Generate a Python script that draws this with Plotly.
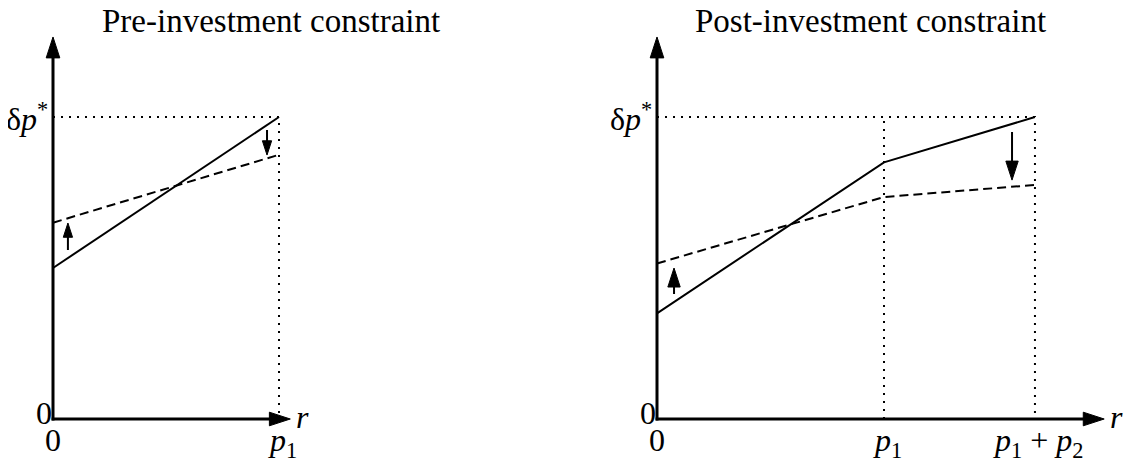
import plotly.graph_objects as go

# values (units: r in multiples of p1, height in multiples of delta p*)
p1 = 1.0
p1_plus_p2 = 1.665
dp_star = 1.0

pre_r = [0.0, p1]
pre_solid = [0.50, 1.00]
pre_dashed = [0.65, 0.875]

post_r = [0.0, p1, p1_plus_p2]
post_solid = [0.35, 0.85, 1.00]
post_dashed = [0.515, 0.735, 0.775]

# shift arrows: r, from, to
pre_arrows_r = [0.066, 0.947]
pre_arrows_from = [0.56, 0.957]
pre_arrows_to = [0.649, 0.874]
post_arrows_r = [0.075, 1.564]
post_arrows_from = [0.414, 0.950]
post_arrows_to = [0.500, 0.791]

titles = ["Pre-investment constraint", "Post-investment constraint"]

# axis extents
y_top = 1.265
pre_x_tip = 1.05
post_x_tip = 1.97

# page has an 8px body margin, so the figure is a bit smaller than the window
PAD = 8
W, H = 1137 - PAD, 459 - PAD
FONT = "Liberation Serif"

fig = go.Figure()


def arrow_trace(x, y, width, head, xa, ya):
    return go.Scatter(x=x, y=y, mode="lines+markers",
                      line=dict(color="black", width=width),
                      marker=dict(symbol="arrow", size=[0, head], angleref="previous",
                                  color="black", opacity=1,
                                  line=dict(color="black", width=1)),
                      xaxis=xa, yaxis=ya, hoverinfo="skip")


def add_panel(xa, ya, r, solid, dashed, ticks, tick_labels, x_tip, ar, af, at, head):
    dots = dict(color="black", width=2, dash="2px,6px")
    # dotted guides
    fig.add_trace(go.Scatter(x=[0, r[-1], r[-1]], y=[dp_star, dp_star, 0], mode="lines",
                             line=dots, xaxis=xa, yaxis=ya, hoverinfo="skip"))
    for t in ticks[1:-1]:
        fig.add_trace(go.Scatter(x=[t, t], y=[0, dp_star], mode="lines",
                                 line=dots, xaxis=xa, yaxis=ya, hoverinfo="skip"))
    # curves
    fig.add_trace(go.Scatter(x=r, y=dashed, mode="lines",
                             line=dict(color="black", width=2, dash="9px,5px"),
                             xaxis=xa, yaxis=ya))
    fig.add_trace(go.Scatter(x=r, y=solid, mode="lines",
                             line=dict(color="black", width=2),
                             xaxis=xa, yaxis=ya))
    # shift arrows
    for x0, y0, y1 in zip(ar, af, at):
        fig.add_trace(arrow_trace([x0, x0], [y0, y1], 2, head, xa, ya))
    # axes with arrow tips
    fig.add_trace(arrow_trace([0, 0], [-0.005, y_top], 3, 22, xa, ya))
    fig.add_trace(arrow_trace([-0.006, x_tip], [0, 0], 3, 22, xa, ya))

    xref = "x" if xa == "x" else "x2"
    yref = "y" if ya == "y" else "y2"
    f = dict(family=FONT, size=32, color="black")
    fig.add_annotation(x=0, y=dp_star, xref=xref, yref=yref, text="δ<i>p</i><sup>*</sup>",
                       showarrow=False, xanchor="right", yanchor="middle", xshift=-3, font=f)
    fig.add_annotation(x=0, y=0, xref=xref, yref=yref, text="0", showarrow=False,
                       xanchor="right", yanchor="middle", xshift=1, yshift=6, font=f)
    fig.add_annotation(x=x_tip, y=0, xref=xref, yref=yref, text="<i>r</i>", showarrow=False,
                       xanchor="left", yanchor="middle", xshift=4, yshift=2, font=f)
    for t, lab in zip(ticks, tick_labels):
        fig.add_annotation(x=t, y=0, xref=xref, yref=yref, text=lab, showarrow=False,
                           xanchor="center", yanchor="top", yshift=-1,
                           xshift=3 if lab != "0" else 0, font=f)


add_panel("x", "y", pre_r, pre_solid, pre_dashed, [0.0, p1],
          ["0", "<i>p</i><sub>1</sub>"], pre_x_tip,
          pre_arrows_r, pre_arrows_from, pre_arrows_to, 15)
add_panel("x2", "y2", post_r, post_solid, post_dashed, [0.0, p1, p1_plus_p2],
          ["0", "<i>p</i><sub>1</sub>", "<i>p</i><sub>1</sub> + <i>p</i><sub>2</sub>"], post_x_tip,
          post_arrows_r, post_arrows_from, post_arrows_to, 20)

# titles (centres in window pixels)
for xc, t in zip([271, 871], titles):
    fig.add_annotation(x=(xc - PAD) / W, y=1, xref="paper", yref="paper", text=t,
                       showarrow=False, xanchor="center", yanchor="top", yshift=7,
                       font=dict(family=FONT, size=33, color="black"))

# pixel placement of each panel (window pixels minus the page margin)
ox1, ox2, oy = 53 - PAD, 657 - PAD, 419 - PAD
sx1, sx2, sy = 226, 227, 302
y_range = [(oy - H) / sy, oy / sy]
ax_style = dict(visible=False, showgrid=False, zeroline=False, fixedrange=True)
fig.update_layout(
    width=W, height=H,
    margin=dict(l=0, r=0, t=0, b=0),
    plot_bgcolor="white", paper_bgcolor="white",
    showlegend=False,
    xaxis=dict(domain=[0, 0.5], range=[-ox1 / sx1, (W / 2 - ox1) / sx1], anchor="y", **ax_style),
    xaxis2=dict(domain=[0.5, 1], range=[(W / 2 - ox2) / sx2, (W - ox2) / sx2], anchor="y2", **ax_style),
    yaxis=dict(domain=[0, 1], range=y_range, anchor="x", **ax_style),
    yaxis2=dict(domain=[0, 1], range=y_range, anchor="x2", **ax_style),
)

fig.write_html("out.html")
